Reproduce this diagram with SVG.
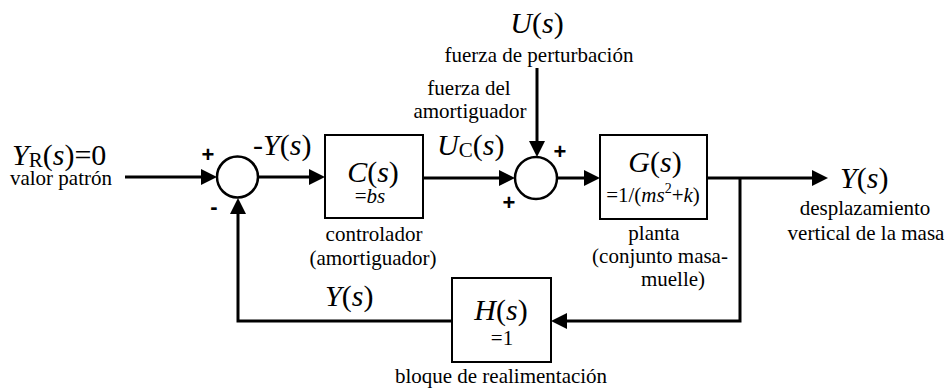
<svg xmlns="http://www.w3.org/2000/svg" width="946" height="389" viewBox="0 0 946 389">
<rect x="0" y="0" width="946" height="389" fill="#fff"/>

<g id="connectors">
<g fill="none" stroke="#000" stroke-width="3">
<line x1="125" y1="177" x2="209" y2="177"/>
<line x1="258" y1="177" x2="317" y2="177"/>
<line x1="423" y1="178" x2="507" y2="178"/>
<line x1="537" y1="68" x2="537" y2="149"/>
<line x1="557" y1="178" x2="592" y2="178"/>
<line x1="707" y1="178" x2="820" y2="178"/>
<polyline points="740,178 740,321 559,321"/>
<polyline points="452,321 238,321 238,206"/>
</g>
<g fill="#000">
<polygon points="201,169 217,177 201,185"/>
<polygon points="309,169 325,177 309,185"/>
<polygon points="499,170 515,178 499,186"/>
<polygon points="529,141 537,157 545,141"/>
<polygon points="584,170 600,178 584,186"/>
<polygon points="812,170 828,178 812,186"/>
<polygon points="567,313 551,321 567,329"/>
<polygon points="230,214 238,198 246,214"/>
</g>
</g>

<g id="input" font-family="Liberation Serif" fill="#000">
<text x="12" y="165" font-size="30"><tspan font-style="italic">Y</tspan><tspan font-size="21" dy="2">R</tspan><tspan dy="-2">(</tspan><tspan font-style="italic">s</tspan>)=0</text>
<text x="61" y="185" font-size="21" text-anchor="middle">valor patrón</text>
</g>

<g id="sum1">
<circle cx="237.5" cy="177" r="20.5" fill="#fff" stroke="#000" stroke-width="2.5"/>
<text x="208" y="162" font-family="Liberation Sans" font-weight="bold" font-size="22" text-anchor="middle">+</text>
<text x="214" y="214" font-family="Liberation Sans" font-weight="bold" font-size="22" text-anchor="middle">-</text>
</g>

<g id="label-negY" font-family="Liberation Serif">
<text x="253" y="155" font-size="30">-<tspan font-style="italic">Y</tspan>(<tspan font-style="italic">s</tspan>)</text>
</g>

<g id="controller" font-family="Liberation Serif" font-size="21" text-anchor="middle">
<rect x="325" y="135" width="98" height="83" fill="#fff" stroke="#000" stroke-width="2"/>
<text x="373" y="182" font-size="30"><tspan font-style="italic">C</tspan>(<tspan font-style="italic">s</tspan>)</text>
<text x="370" y="203">=<tspan font-style="italic">bs</tspan></text>
<text x="374" y="241">controlador</text>
<text x="373" y="265">(amortiguador)</text>
</g>

<g id="label-Uc" font-family="Liberation Serif" font-size="21">
<text x="437" y="155" font-size="30"><tspan font-style="italic">U</tspan><tspan font-size="21" dy="2">C</tspan><tspan dy="-2">(</tspan><tspan font-style="italic">s</tspan>)</text>
<text x="469" y="95" text-anchor="middle">fuerza del</text>
<text x="470" y="118" text-anchor="middle">amortiguador</text>
</g>

<g id="disturbance" font-family="Liberation Serif" text-anchor="middle">
<text x="537" y="33" font-size="30"><tspan font-style="italic">U</tspan>(<tspan font-style="italic">s</tspan>)</text>
<text x="539" y="62" font-size="21">fuerza de perturbación</text>
</g>

<g id="sum2">
<circle cx="536" cy="178" r="21" fill="#fff" stroke="#000" stroke-width="2.5"/>
<text x="560" y="159" font-family="Liberation Sans" font-weight="bold" font-size="22" text-anchor="middle">+</text>
<text x="509" y="210" font-family="Liberation Sans" font-weight="bold" font-size="22" text-anchor="middle">+</text>
</g>

<g id="plant" font-family="Liberation Serif" font-size="21" text-anchor="middle">
<rect x="600" y="135" width="107" height="84" fill="#fff" stroke="#000" stroke-width="2"/>
<text x="655" y="172" font-size="30"><tspan font-style="italic">G</tspan>(<tspan font-style="italic">s</tspan>)</text>
<text x="653" y="202">=1/(<tspan font-style="italic">ms</tspan><tspan font-size="14" dy="-9">2</tspan><tspan dy="9">+</tspan><tspan font-style="italic">k</tspan>)</text>
<text x="654" y="240">planta</text>
<text x="660" y="263">(conjunto masa-</text>
<text x="673" y="286">muelle)</text>
</g>

<g id="output" font-family="Liberation Serif" font-size="21">
<text x="840" y="188" font-size="30"><tspan font-style="italic">Y</tspan>(<tspan font-style="italic">s</tspan>)</text>
<text x="865" y="215" text-anchor="middle">desplazamiento</text>
<text x="866" y="240" text-anchor="middle">vertical de la masa</text>
</g>

<g id="feedback" font-family="Liberation Serif" font-size="21" text-anchor="middle">
<rect x="452" y="278" width="99" height="84" fill="#fff" stroke="#000" stroke-width="2"/>
<text x="501" y="320" font-size="30"><tspan font-style="italic">H</tspan>(<tspan font-style="italic">s</tspan>)</text>
<text x="502" y="345">=1</text>
<text x="501" y="383">bloque de realimentación</text>
</g>

<g id="label-Y" font-family="Liberation Serif">
<text x="325" y="306" font-size="30"><tspan font-style="italic">Y</tspan>(<tspan font-style="italic">s</tspan>)</text>
</g>
</svg>
